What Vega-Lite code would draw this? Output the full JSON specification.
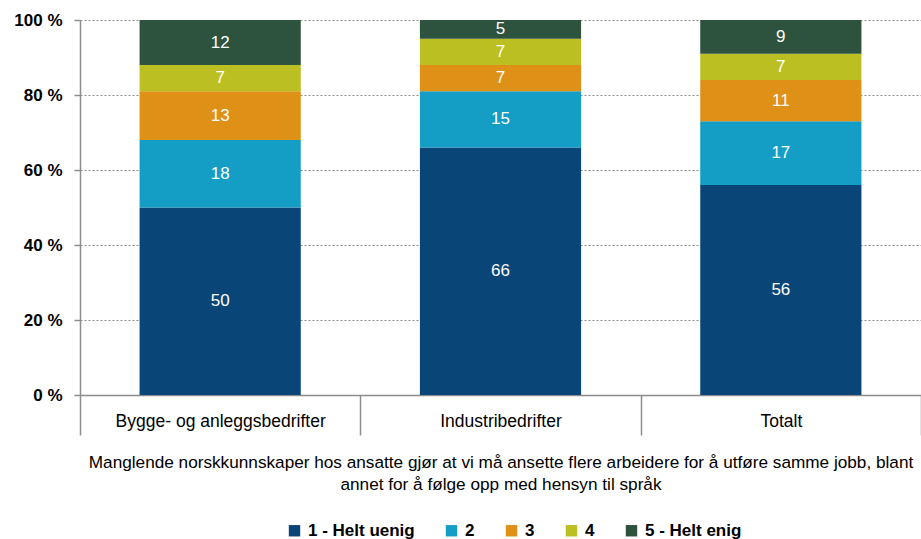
{
  "$schema": "https://vega.github.io/schema/vega-lite/v6.json",
  "width": 841,
  "height": 375,
  "autosize": {"type": "none"},
  "padding": {"left": 80, "top": 20, "right": 0, "bottom": 144},
  "background": "white",
  "config": {
    "font": "Liberation Sans",
    "view": {"stroke": null}
  },
  "data": {
    "values": [
      {"cat": "Bygge- og anleggsbedrifter", "k": 1, "lab": "1 - Helt uenig", "v": 50},
      {"cat": "Bygge- og anleggsbedrifter", "k": 2, "lab": "2", "v": 18},
      {"cat": "Bygge- og anleggsbedrifter", "k": 3, "lab": "3", "v": 13},
      {"cat": "Bygge- og anleggsbedrifter", "k": 4, "lab": "4", "v": 7},
      {"cat": "Bygge- og anleggsbedrifter", "k": 5, "lab": "5 - Helt enig", "v": 12},
      {"cat": "Industribedrifter", "k": 1, "lab": "1 - Helt uenig", "v": 66},
      {"cat": "Industribedrifter", "k": 2, "lab": "2", "v": 15},
      {"cat": "Industribedrifter", "k": 3, "lab": "3", "v": 7},
      {"cat": "Industribedrifter", "k": 4, "lab": "4", "v": 7},
      {"cat": "Industribedrifter", "k": 5, "lab": "5 - Helt enig", "v": 5},
      {"cat": "Totalt", "k": 1, "lab": "1 - Helt uenig", "v": 56},
      {"cat": "Totalt", "k": 2, "lab": "2", "v": 17},
      {"cat": "Totalt", "k": 3, "lab": "3", "v": 11},
      {"cat": "Totalt", "k": 4, "lab": "4", "v": 7},
      {"cat": "Totalt", "k": 5, "lab": "5 - Helt enig", "v": 9}
    ]
  },
  "transform": [
    {"stack": "v", "groupby": ["cat"], "sort": [{"field": "k", "order": "ascending"}], "as": ["y0", "y1"]}
  ],
  "encoding": {
    "x": {
      "field": "cat",
      "type": "nominal",
      "sort": ["Bygge- og anleggsbedrifter", "Industribedrifter", "Totalt"],
      "scale": {"paddingInner": 0, "paddingOuter": 0},
      "axis": {
        "title": ["Manglende norskkunnskaper hos ansatte gjør at vi må ansette flere arbeidere for å utføre samme jobb, blant", "annet for å følge opp med hensyn til språk"],
        "titleFontSize": 17.2,
        "titleFontWeight": "normal",
        "titleColor": "black",
        "titleLineHeight": 22,
        "titleBaseline": "top",
        "titleY": 58,
        "labelAngle": 0,
        "labelFontSize": 17.5,
        "labelColor": "black",
        "labelLimit": 0,
        "labelPadding": -23,
        "tickBand": "extent",
        "tickSize": 40,
        "tickColor": "#8c8c8c",
        "tickWidth": 1.5,
        "domainColor": "#8c8c8c",
        "domainWidth": 1.5,
        "encode": {
          "ticks": {
            "update": {
              "y2": {"signal": "datum.extra ? 102 : (datum.index >= 0.99 ? 0 : 40)"}
            }
          }
        }
      }
    }
  },
  "layer": [
    {
      "mark": {"type": "bar", "width": {"band": 0.575}},
      "encoding": {
        "y": {
          "field": "y0",
          "type": "quantitative",
          "scale": {"domain": [0, 100], "nice": false},
          "axis": {
            "title": null,
            "values": [0, 20, 40, 60, 80, 100],
            "labelExpr": "datum.value + ' %'",
            "labelFontSize": 17,
            "labelFontWeight": "bold",
            "labelColor": "black",
            "labelPadding": 12,
            "tickSize": 6,
            "tickColor": "#8c8c8c",
            "tickWidth": 1.5,
            "domainColor": "#8c8c8c",
            "domainWidth": 1.5,
            "grid": true,
            "gridColor": "#8c8c8c",
            "gridDash": [2, 2],
            "gridWidth": 1
          }
        },
        "y2": {"field": "y1"},
        "color": {
          "field": "lab",
          "type": "nominal",
          "sort": ["1 - Helt uenig", "2", "3", "4", "5 - Helt enig"],
          "scale": {
            "domain": ["1 - Helt uenig", "2", "3", "4", "5 - Helt enig"],
            "range": ["#0a4577", "#149dc5", "#de9017", "#bcbf22", "#2d523e"]
          },
          "legend": {
            "title": null,
            "orient": "none",
            "direction": "horizontal",
            "legendX": 206,
            "legendY": 502,
            "symbolType": "square",
            "symbolSize": 130,
            "symbolStrokeWidth": 0,
            "labelFontSize": 17,
            "labelFontWeight": "bold",
            "labelColor": "black",
            "labelOffset": 5,
            "columnPadding": 28
          }
        }
      }
    },
    {
      "transform": [{"calculate": "(datum.y0 + datum.y1) / 2", "as": "mid"}],
      "mark": {"type": "text", "color": "white", "fontSize": 17, "baseline": "middle"},
      "encoding": {
        "y": {"field": "mid", "type": "quantitative", "title": null},
        "text": {"field": "v", "type": "quantitative"}
      }
    }
  ]
}
